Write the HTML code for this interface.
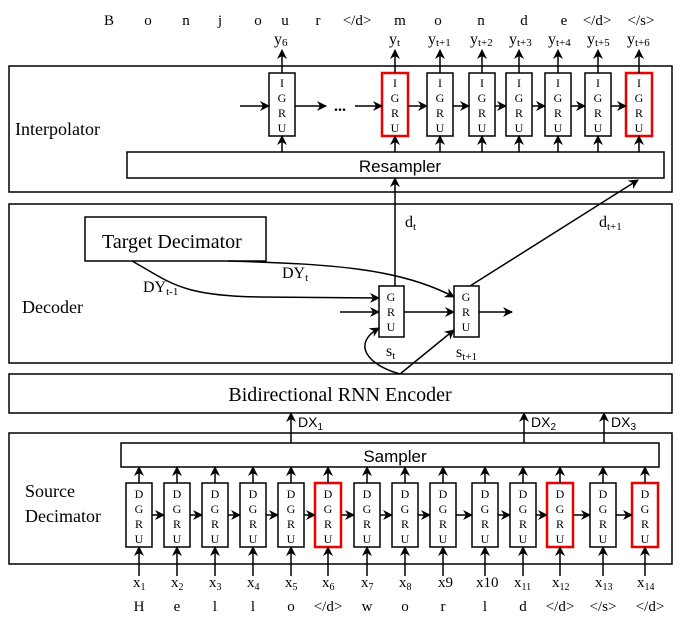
<!DOCTYPE html>
<html><head><meta charset="utf-8"><style>
html,body{margin:0;padding:0;background:#fff;}
svg{display:block;}
.s{font-family:"Liberation Serif",serif;fill:#000;}
.a{font-family:"Liberation Sans",sans-serif;fill:#000;}
</style></head><body>
<svg width="685" height="618" viewBox="0 0 685 618" xmlns="http://www.w3.org/2000/svg">
<defs>
<marker id="ar" markerWidth="10" markerHeight="10" refX="9" refY="5" orient="auto" markerUnits="userSpaceOnUse">
<path d="M0,0 L10,5 L0,10 L3,5 z" fill="#000"/></marker>
</defs>
<g fill="none" stroke="#000" stroke-width="1.5">
<rect x="9" y="66" width="663" height="126"/>
<rect x="9" y="204" width="663" height="159"/>
<rect x="9" y="374" width="663" height="39"/>
<rect x="9" y="433" width="663" height="131"/>
<rect x="127" y="152" width="537" height="26"/>
<rect x="85" y="217" width="181" height="44"/>
<rect x="121" y="443" width="538" height="24"/>
</g>
<g class="s" font-size="18">
<text x="15" y="135">Interpolator</text>
<text x="22" y="313">Decoder</text>
<text x="25" y="497">Source</text>
<text x="25" y="522">Decimator</text>
<text x="102" y="248" font-size="20">Target Decimator</text>
<text x="340" y="401" font-size="20" text-anchor="middle">Bidirectional RNN Encoder</text>
</g>
<text class="a" x="400" y="172" font-size="17" text-anchor="middle">Resampler</text>
<text class="a" x="395" y="462" font-size="17" text-anchor="middle">Sampler</text>
<g fill="none" stroke-width="1.5">
<rect x="269" y="73" width="26" height="63" stroke="#000"/>
<rect x="382" y="73" width="26" height="63" stroke="#e00" stroke-width="2.5"/>
<rect x="427" y="73" width="26" height="63" stroke="#000"/>
<rect x="469" y="73" width="26" height="63" stroke="#000"/>
<rect x="506" y="73" width="26" height="63" stroke="#000"/>
<rect x="545" y="73" width="26" height="63" stroke="#000"/>
<rect x="585" y="73" width="26" height="63" stroke="#000"/>
<rect x="626" y="73" width="26" height="63" stroke="#e00" stroke-width="2.5"/>
</g>
<g class="s" font-size="12" text-anchor="middle">
<text x="282" y="87">I</text><text x="282" y="102">G</text><text x="282" y="117">R</text><text x="282" y="132">U</text>
<text x="395" y="87">I</text><text x="395" y="102">G</text><text x="395" y="117">R</text><text x="395" y="132">U</text>
<text x="440" y="87">I</text><text x="440" y="102">G</text><text x="440" y="117">R</text><text x="440" y="132">U</text>
<text x="482" y="87">I</text><text x="482" y="102">G</text><text x="482" y="117">R</text><text x="482" y="132">U</text>
<text x="519" y="87">I</text><text x="519" y="102">G</text><text x="519" y="117">R</text><text x="519" y="132">U</text>
<text x="558" y="87">I</text><text x="558" y="102">G</text><text x="558" y="117">R</text><text x="558" y="132">U</text>
<text x="598" y="87">I</text><text x="598" y="102">G</text><text x="598" y="117">R</text><text x="598" y="132">U</text>
<text x="639" y="87">I</text><text x="639" y="102">G</text><text x="639" y="117">R</text><text x="639" y="132">U</text>
</g>
<g stroke="#000" stroke-width="1.5" marker-end="url(#ar)">
<line x1="282" y1="73" x2="282" y2="50"/><line x1="395" y1="73" x2="395" y2="50"/>
<line x1="440" y1="73" x2="440" y2="50"/><line x1="482" y1="73" x2="482" y2="50"/>
<line x1="519" y1="73" x2="519" y2="50"/><line x1="558" y1="73" x2="558" y2="50"/>
<line x1="598" y1="73" x2="598" y2="50"/><line x1="639" y1="73" x2="639" y2="50"/>
<line x1="282" y1="152" x2="282" y2="136"/><line x1="395" y1="152" x2="395" y2="136"/>
<line x1="440" y1="152" x2="440" y2="136"/><line x1="482" y1="152" x2="482" y2="136"/>
<line x1="519" y1="152" x2="519" y2="136"/><line x1="558" y1="152" x2="558" y2="136"/>
<line x1="598" y1="152" x2="598" y2="136"/><line x1="639" y1="152" x2="639" y2="136"/>
<line x1="240" y1="106" x2="269" y2="106"/><line x1="295" y1="106" x2="326" y2="106"/>
<line x1="355" y1="106" x2="382" y2="106"/><line x1="408" y1="106" x2="427" y2="106"/>
<line x1="453" y1="106" x2="469" y2="106"/><line x1="495" y1="106" x2="506" y2="106"/>
<line x1="532" y1="106" x2="545" y2="106"/><line x1="571" y1="106" x2="585" y2="106"/>
<line x1="611" y1="106" x2="626" y2="106"/>
<line x1="395" y1="286" x2="395" y2="178"/>
<line x1="470" y1="286" x2="638" y2="180"/>
</g>
<text class="s" x="340" y="111" font-size="16" font-weight="bold" text-anchor="middle">...</text>
<g class="s" font-size="15" text-anchor="middle">
<text x="109" y="25">B</text><text x="148" y="25">o</text><text x="186" y="25">n</text><text x="220" y="25">j</text>
<text x="258" y="25">o</text><text x="285" y="25">u</text><text x="318" y="25">r</text><text x="357" y="25">&lt;/d&gt;</text>
<text x="400" y="25">m</text><text x="438" y="25">o</text><text x="481" y="25">n</text><text x="524" y="25">d</text>
<text x="564" y="25">e</text><text x="597" y="25">&lt;/d&gt;</text><text x="641" y="25">&lt;/s&gt;</text>
</g>
<g class="s" font-size="16">
<text x="274" y="44">y<tspan font-size="11" dy="2">6</tspan></text>
<text x="389" y="44">y<tspan font-size="11" dy="2">t</tspan></text>
<text x="428" y="44">y<tspan font-size="11" dy="2">t+1</tspan></text>
<text x="470" y="44">y<tspan font-size="11" dy="2">t+2</tspan></text>
<text x="509" y="44">y<tspan font-size="11" dy="2">t+3</tspan></text>
<text x="548" y="44">y<tspan font-size="11" dy="2">t+4</tspan></text>
<text x="587" y="44">y<tspan font-size="11" dy="2">t+5</tspan></text>
<text x="627" y="44">y<tspan font-size="11" dy="2">t+6</tspan></text>
<text x="405" y="227">d<tspan font-size="11" dy="3">t</tspan></text>
<text x="599" y="227">d<tspan font-size="11" dy="3">t+1</tspan></text>
<text x="282" y="278">DY<tspan font-size="11" dy="3">t</tspan></text>
<text x="143" y="292">DY<tspan font-size="11" dy="3">t-1</tspan></text>
<text x="386" y="356">s<tspan font-size="11" dy="3">t</tspan></text>
<text x="456" y="357">s<tspan font-size="11" dy="3">t+1</tspan></text>
</g>
<rect x="379" y="286" width="25" height="51" fill="none" stroke="#000" stroke-width="1.5"/>
<rect x="454" y="286" width="25" height="51" fill="none" stroke="#000" stroke-width="1.5"/>
<g class="s" font-size="12" text-anchor="middle">
<text x="391" y="301">G</text><text x="391" y="316">R</text><text x="391" y="331">U</text>
<text x="466" y="301">G</text><text x="466" y="316">R</text><text x="466" y="331">U</text>
</g>
<g fill="none" stroke="#000" stroke-width="1.5" marker-end="url(#ar)">
<path d="M132,261 C170,282 180,296 260,297 L379,298"/>
<path d="M228,261 C330,264 400,268 454,297"/>
<line x1="340" y1="312" x2="379" y2="312"/>
<line x1="404" y1="312" x2="454" y2="312"/>
<line x1="479" y1="312" x2="512" y2="312"/>
<path d="M400,374 C370,366 350,345 379,328"/>
<line x1="400" y1="374" x2="454" y2="330"/>
<line x1="291" y1="443" x2="291" y2="413"/>
<line x1="524" y1="443" x2="524" y2="413"/>
<line x1="604" y1="443" x2="604" y2="413"/>
</g>
<g class="a" font-size="14">
<text x="298" y="427">DX<tspan font-size="10" dy="3">1</tspan></text>
<text x="531" y="427">DX<tspan font-size="10" dy="3">2</tspan></text>
<text x="611" y="427">DX<tspan font-size="10" dy="3">3</tspan></text>
</g>
<g fill="none" stroke="#000" stroke-width="1.5">
<rect x="126" y="483" width="26" height="64"/><rect x="164" y="483" width="26" height="64"/>
<rect x="202" y="483" width="26" height="64"/><rect x="240" y="483" width="26" height="64"/>
<rect x="278" y="483" width="26" height="64"/>
<rect x="315" y="483" width="26" height="64" stroke="#e00" stroke-width="2.5"/>
<rect x="354" y="483" width="26" height="64"/><rect x="392" y="483" width="26" height="64"/>
<rect x="430" y="483" width="26" height="64"/><rect x="472" y="483" width="26" height="64"/>
<rect x="510" y="483" width="26" height="64"/>
<rect x="547" y="483" width="26" height="64" stroke="#e00" stroke-width="2.5"/>
<rect x="590" y="483" width="26" height="64"/>
<rect x="632" y="483" width="26" height="64" stroke="#e00" stroke-width="2.5"/>
</g>
<g class="s" font-size="12" text-anchor="middle">
<text x="139" y="498">D</text><text x="139" y="513">G</text><text x="139" y="528">R</text><text x="139" y="543">U</text>
<text x="177" y="498">D</text><text x="177" y="513">G</text><text x="177" y="528">R</text><text x="177" y="543">U</text>
<text x="215" y="498">D</text><text x="215" y="513">G</text><text x="215" y="528">R</text><text x="215" y="543">U</text>
<text x="253" y="498">D</text><text x="253" y="513">G</text><text x="253" y="528">R</text><text x="253" y="543">U</text>
<text x="291" y="498">D</text><text x="291" y="513">G</text><text x="291" y="528">R</text><text x="291" y="543">U</text>
<text x="328" y="498">D</text><text x="328" y="513">G</text><text x="328" y="528">R</text><text x="328" y="543">U</text>
<text x="367" y="498">D</text><text x="367" y="513">G</text><text x="367" y="528">R</text><text x="367" y="543">U</text>
<text x="405" y="498">D</text><text x="405" y="513">G</text><text x="405" y="528">R</text><text x="405" y="543">U</text>
<text x="443" y="498">D</text><text x="443" y="513">G</text><text x="443" y="528">R</text><text x="443" y="543">U</text>
<text x="485" y="498">D</text><text x="485" y="513">G</text><text x="485" y="528">R</text><text x="485" y="543">U</text>
<text x="523" y="498">D</text><text x="523" y="513">G</text><text x="523" y="528">R</text><text x="523" y="543">U</text>
<text x="560" y="498">D</text><text x="560" y="513">G</text><text x="560" y="528">R</text><text x="560" y="543">U</text>
<text x="603" y="498">D</text><text x="603" y="513">G</text><text x="603" y="528">R</text><text x="603" y="543">U</text>
<text x="645" y="498">D</text><text x="645" y="513">G</text><text x="645" y="528">R</text><text x="645" y="543">U</text>
</g>
<g stroke="#000" stroke-width="1.5" marker-end="url(#ar)">
<line x1="139" y1="483" x2="139" y2="467"/><line x1="177" y1="483" x2="177" y2="467"/>
<line x1="215" y1="483" x2="215" y2="467"/><line x1="253" y1="483" x2="253" y2="467"/>
<line x1="291" y1="483" x2="291" y2="467"/><line x1="328" y1="483" x2="328" y2="467"/>
<line x1="367" y1="483" x2="367" y2="467"/><line x1="405" y1="483" x2="405" y2="467"/>
<line x1="443" y1="483" x2="443" y2="467"/><line x1="485" y1="483" x2="485" y2="467"/>
<line x1="523" y1="483" x2="523" y2="467"/><line x1="560" y1="483" x2="560" y2="467"/>
<line x1="603" y1="483" x2="603" y2="467"/><line x1="645" y1="483" x2="645" y2="467"/>
<line x1="139" y1="576" x2="139" y2="547"/><line x1="177" y1="576" x2="177" y2="547"/>
<line x1="215" y1="576" x2="215" y2="547"/><line x1="253" y1="576" x2="253" y2="547"/>
<line x1="291" y1="576" x2="291" y2="547"/><line x1="328" y1="576" x2="328" y2="547"/>
<line x1="367" y1="576" x2="367" y2="547"/><line x1="405" y1="576" x2="405" y2="547"/>
<line x1="443" y1="576" x2="443" y2="547"/><line x1="485" y1="576" x2="485" y2="547"/>
<line x1="523" y1="576" x2="523" y2="547"/><line x1="560" y1="576" x2="560" y2="547"/>
<line x1="603" y1="576" x2="603" y2="547"/><line x1="645" y1="576" x2="645" y2="547"/>
<line x1="152" y1="515" x2="164" y2="515"/><line x1="190" y1="515" x2="202" y2="515"/>
<line x1="228" y1="515" x2="240" y2="515"/><line x1="266" y1="515" x2="278" y2="515"/>
<line x1="304" y1="515" x2="315" y2="515"/><line x1="341" y1="515" x2="354" y2="515"/>
<line x1="380" y1="515" x2="392" y2="515"/><line x1="418" y1="515" x2="430" y2="515"/>
<line x1="456" y1="515" x2="472" y2="515"/><line x1="498" y1="515" x2="510" y2="515"/>
<line x1="536" y1="515" x2="547" y2="515"/><line x1="573" y1="515" x2="590" y2="515"/>
<line x1="616" y1="515" x2="632" y2="515"/>
</g>
<g class="s" font-size="15">
<text x="133" y="587">x<tspan font-size="10" dy="3">1</tspan></text>
<text x="171" y="587">x<tspan font-size="10" dy="3">2</tspan></text>
<text x="209" y="587">x<tspan font-size="10" dy="3">3</tspan></text>
<text x="247" y="587">x<tspan font-size="10" dy="3">4</tspan></text>
<text x="285" y="587">x<tspan font-size="10" dy="3">5</tspan></text>
<text x="322" y="587">x<tspan font-size="10" dy="3">6</tspan></text>
<text x="361" y="587">x<tspan font-size="10" dy="3">7</tspan></text>
<text x="399" y="587">x<tspan font-size="10" dy="3">8</tspan></text>
<text x="438" y="587">x9</text>
<text x="476" y="587">x10</text>
<text x="514" y="587">x<tspan font-size="10" dy="3">11</tspan></text>
<text x="552" y="587">x<tspan font-size="10" dy="3">12</tspan></text>
<text x="595" y="587">x<tspan font-size="10" dy="3">13</tspan></text>
<text x="637" y="587">x<tspan font-size="10" dy="3">14</tspan></text>
</g>
<g class="s" font-size="15" text-anchor="middle">
<text x="139" y="611">H</text><text x="177" y="611">e</text><text x="215" y="611">l</text><text x="253" y="611">l</text>
<text x="291" y="611">o</text><text x="328" y="611">&lt;/d&gt;</text><text x="367" y="611">w</text><text x="405" y="611">o</text>
<text x="443" y="611">r</text><text x="485" y="611">l</text><text x="523" y="611">d</text><text x="560" y="611">&lt;/d&gt;</text>
<text x="603" y="611">&lt;/s&gt;</text><text x="650" y="611">&lt;/d&gt;</text>
</g>
</svg>
</body></html>
